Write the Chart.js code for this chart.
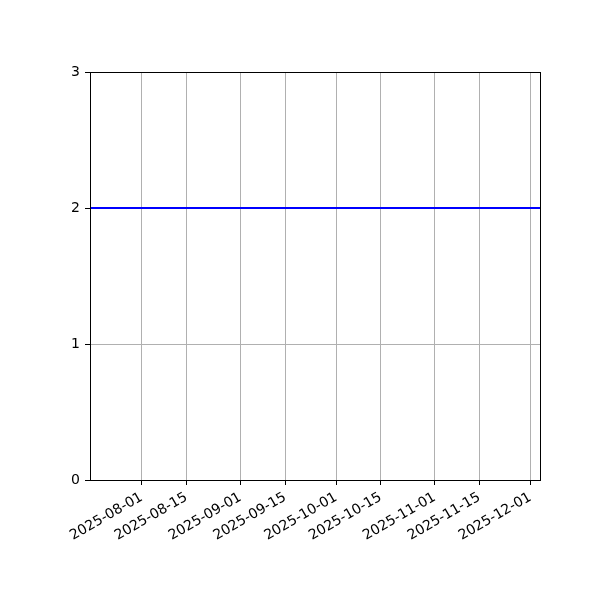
<!DOCTYPE html>
<html>
<head>
<meta charset="utf-8">
<script src="https://cdn.jsdelivr.net/npm/chart.js@4.4.1/dist/chart.umd.min.js"></script>
<style>
  html, body { margin: 0; padding: 0; background: #fff; }
</style>
</head>
<body>
<canvas id="chart" width="600" height="600"></canvas>
<script>
// data
const dates = ["2025-07-15T18:00:00Z", "2025-12-04T01:00:00Z"];
const values = [2, 2];
const xTickDates = ["2025-08-01", "2025-08-15", "2025-09-01", "2025-09-15",
                    "2025-10-01", "2025-10-15", "2025-11-01", "2025-11-15", "2025-12-01"];
const yTicks = [0, 1, 2, 3];

const toMs = d => Date.parse(d.length === 10 ? d + "T00:00:00Z" : d);

function fmtDate(ms){
    const d = new Date(ms);
    const m = String(d.getUTCMonth() + 1).padStart(2, "0");
    const day = String(d.getUTCDate()).padStart(2, "0");
    return d.getUTCFullYear() + "-" + m + "-" + day;
}

// black frame around the plot area
const framePlugin = {
    id: "frame",
    afterDraw(chart){
        const a = chart.chartArea;
        const ctx = chart.ctx;
        ctx.save();
        ctx.strokeStyle = "#000";
        ctx.lineWidth = 1;
        ctx.strokeRect(Math.round(a.left) + 0.5, Math.round(a.top) + 0.5,
                       Math.round(a.right - a.left), Math.round(a.bottom - a.top));
        ctx.restore();
    }
};

Chart.defaults.font.family = "'DejaVu Sans', sans-serif";
Chart.defaults.font.size = 13;
Chart.defaults.color = "#000";

new Chart(document.getElementById("chart"), {
    type: "line",
    data: {
        datasets: [{
            data: dates.map((d, i) => ({ x: toMs(d), y: values[i] })),
            borderColor: "#0000ff",
            borderWidth: 2,
            pointRadius: 0,
            fill: false,
            tension: 0
        }]
    },
    options: {
        responsive: false,
        animation: false,
        devicePixelRatio: 1,
        layout: { padding: { top: 72, right: 60, left: 0, bottom: 0 } },
        plugins: { legend: { display: false }, tooltip: { enabled: false } },
        scales: {
            x: {
                type: "linear",
                min: toMs(dates[0]),
                max: toMs(dates[dates.length - 1]),
                afterBuildTicks(scale){
                    scale.ticks = xTickDates.map(d => ({ value: toMs(d) }));
                },
                afterFit(scale){ scale.height = 120; },
                ticks: {
                    autoSkip: false,
                    maxRotation: 30,
                    minRotation: 30,
                    padding: 4,
                    font: { size: 14 },
                    callback: v => fmtDate(v)
                },
                grid: { color: "#b0b0b0", lineWidth: 1, tickColor: "#000", tickLength: 5 },
                border: { display: true, color: "#000" }
            },
            y: {
                min: 0,
                max: 3,
                afterBuildTicks(scale){
                    scale.ticks = yTicks.map(v => ({ value: v }));
                },
                afterFit(scale){ scale.width = 90; },
                ticks: { padding: 5, font: { size: 14 }, callback: v => String(v) },
                grid: { color: "#b0b0b0", lineWidth: 1, tickColor: "#000", tickLength: 5 },
                border: { display: true, color: "#000" }
            }
        }
    },
    plugins: [framePlugin]
});
</script>
</body>
</html>
